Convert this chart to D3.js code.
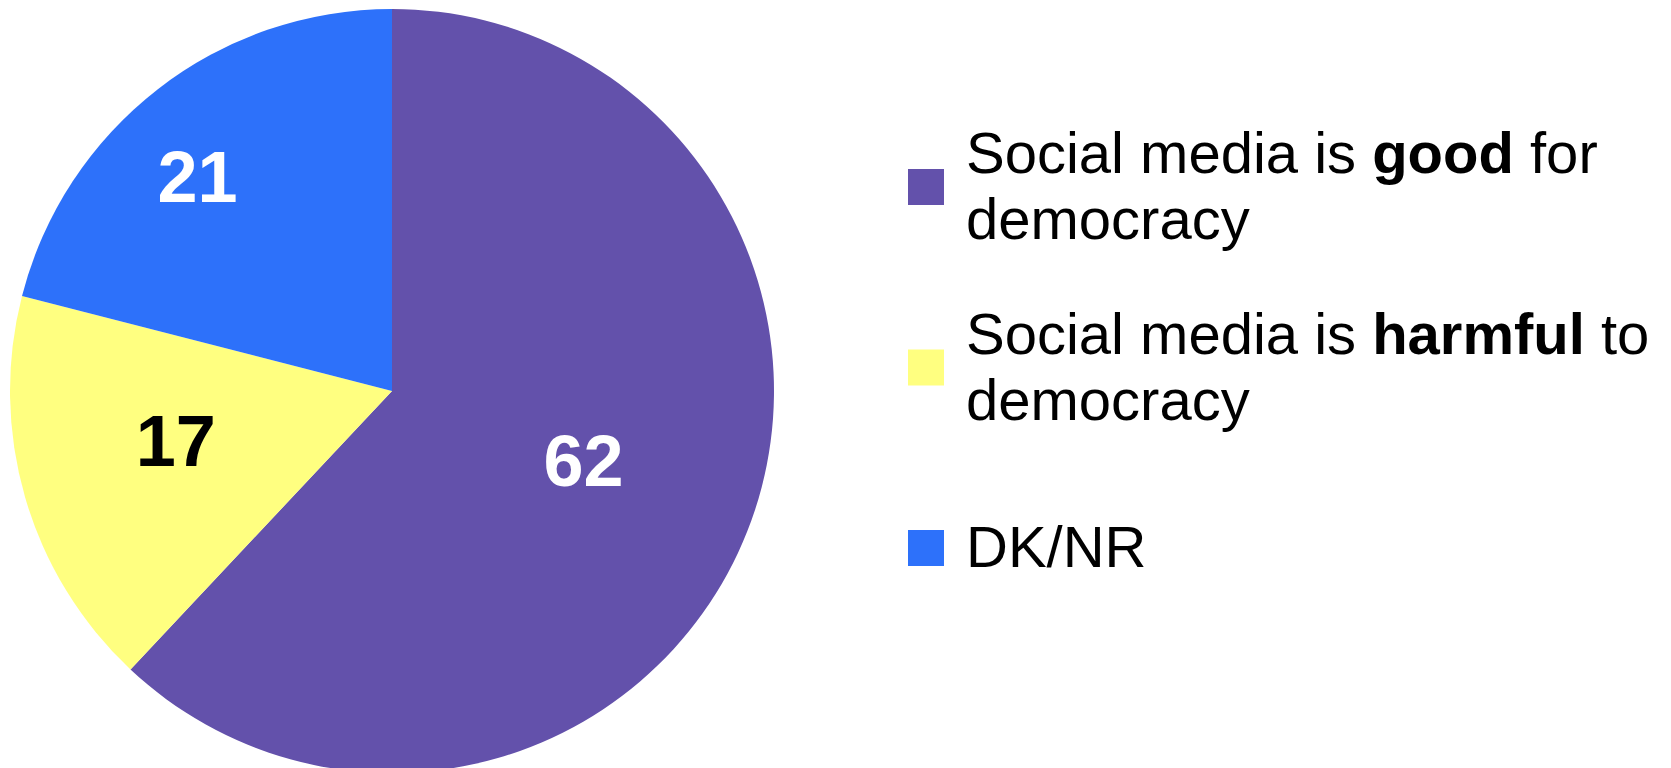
<!DOCTYPE html>
<html>
<head>
<meta charset="utf-8">
<script src="https://cdn.jsdelivr.net/npm/d3@7/dist/d3.min.js"></script>
<style>
  html, body { margin: 0; padding: 0; background: #fff; }
  svg text { font-family: "Liberation Sans", Arial, sans-serif; }
</style>
</head>
<body>
<svg id="main" width="1671" height="768"></svg>
<script>
// data
var categories = ["good", "harmful", "DK/NR"];
var values = [62, 17, 21];
var colors = ["#6351ab", "#ffff80", "#2d71fa"];
var labelColors = ["#fff", "#000", "#fff"];
// legend text, one entry per line, [text, bold]
var legendLines = [
    [[["Social media is ", false], ["good", true], [" for", false]], [["democracy", false]]],
    [[["Social media is ", false], ["harmful", true], [" to", false]], [["democracy", false]]],
    [[["DK/NR", false]]]
];

var svg = d3.select("#main"),
    cx = 392, cy = 391, radius = 382;

// where the value labels sit: share of radius, and a nudge off the bisector (deg)
var labelRadius = [0.533, 0.58, 0.758];
var labelShift = [-1.8, 3.5, -4.4];

var pie = d3.pie()
    .sort(null)
    .value(function(d) { return d; });

var arc = d3.arc()
    .innerRadius(0)
    .outerRadius(radius);

var arcs = pie(values);

var g = svg.append("g")
    .attr("transform", "translate(" + cx + "," + cy + ")");

g.selectAll("path.slice")
    .data(arcs)
    .enter().append("path")
    .attr("class", "slice")
    .attr("d", arc)
    .attr("fill", function(d, i) { return colors[i]; });

g.selectAll("text.val")
    .data(arcs)
    .enter().append("text")
    .attr("class", "val")
    .attr("transform", function(d, i) {
        var r = radius * labelRadius[i],
            a = (d.startAngle + d.endAngle) / 2 + labelShift[i] * Math.PI / 180;
        return "translate(" + (r * Math.sin(a)) + "," + (-r * Math.cos(a)) + ")";
    })
    .attr("text-anchor", "middle")
    .attr("dy", "0.36em")
    .style("font-size", "72px")
    .style("font-weight", "bold")
    .attr("fill", function(d, i) { return labelColors[i]; })
    .text(function(d) { return d.value; });

// legend
var lx = 908, box = 36, tx = 966, lineH = 66;
var ly = d3.scalePoint()
    .domain(categories)
    .range([187, 548]);

var items = svg.append("g").attr("class", "legend")
    .selectAll("g")
    .data(categories)
    .enter().append("g")
    .attr("transform", function(d) { return "translate(0," + ly(d) + ")"; });

items.append("rect")
    .attr("x", lx)
    .attr("y", -box / 2)
    .attr("width", box)
    .attr("height", box)
    .attr("fill", function(d, i) { return colors[i]; });

items.each(function(d, i) {
    var lines = legendLines[i];
    var first = -(lines.length - 1) * lineH / 2 + 19;
    var t = d3.select(this).append("text")
        .style("font-size", "58px")
        .attr("fill", "#000");
    lines.forEach(function(line, j) {
        line.forEach(function(seg, k) {
            var s = t.append("tspan")
                .style("font-weight", seg[1] ? "bold" : "normal")
                .style("white-space", "pre")
                .text(seg[0]);
            if (k == 0) s.attr("x", tx).attr("y", first + j * lineH);
        });
    });
});
</script>
</body>
</html>
